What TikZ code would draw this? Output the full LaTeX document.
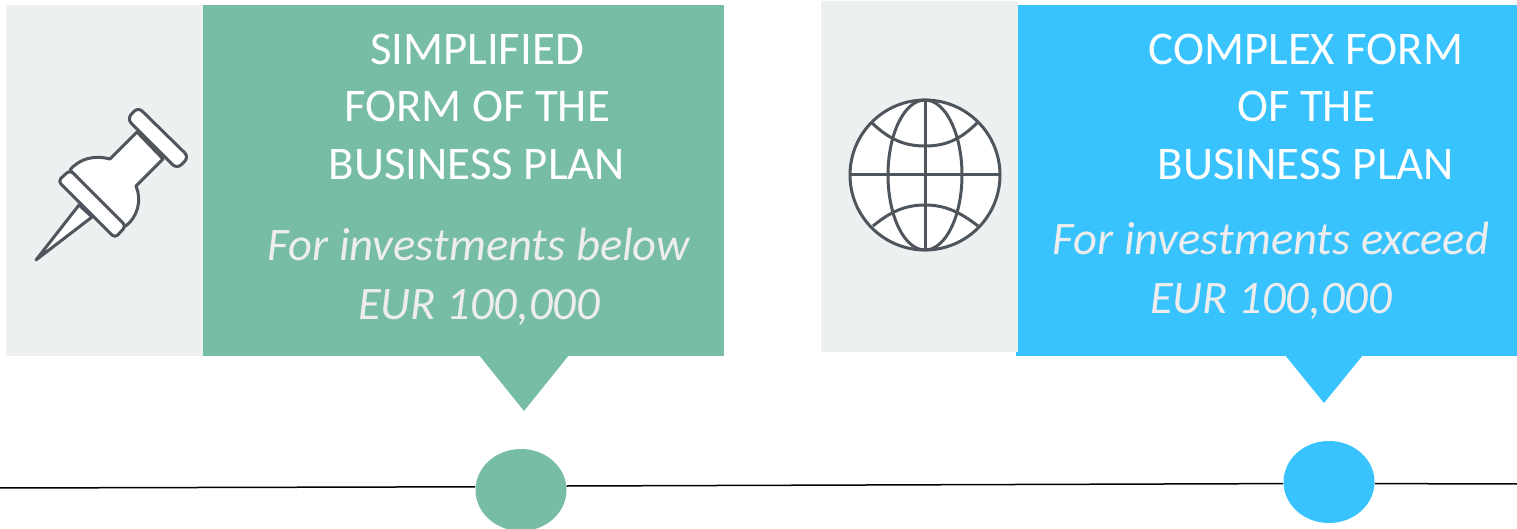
\documentclass[tikz,border=0pt]{standalone}
\usepackage{fontspec}
\setmainfont{Carlito}
\usetikzlibrary{shapes.geometric}
\definecolor{gr}{HTML}{76BCA7}
\definecolor{bl}{HTML}{38C3FF}
\definecolor{pale}{HTML}{ECF0F1}
\definecolor{ink}{HTML}{4F555C}
\tikzset{
 panel/.style={fill=#1,draw=none},
 icon/.style={draw=ink,line width=1.5pt,fill=white,line join=round},
 dot/.style={ellipse,fill=#1,draw=none,minimum width=45.5pt,minimum height=41pt,inner sep=0pt},
 head/.style={text=white,align=center,inner sep=0pt,font=\fontsize{23.4}{28.75}\selectfont},
 sub/.style={text=white!93!black,align=center,inner sep=0pt,font=\fontsize{23.3}{29.5}\selectfont\itshape},
 axis/.style={draw=black,line width=0.75pt}
}
\begin{document}
\begin{tikzpicture}[x=0.5pt,y=-0.5pt]
\useasboundingbox (0,0) rectangle (1517,529);
\clip (0,0) rectangle (1517,529);
% left card
\fill[panel=pale] (6,5) rectangle (203,356);
\fill[panel=gr] (203,5) rectangle (724,356);
\fill[panel=gr] (479,355) -- (569,355) -- (524,411) -- cycle;
% right card
\fill[panel=bl] (1016,5) rectangle (1517,356);
\fill[panel=pale] (821,1) rectangle (1018,352);
\fill[panel=bl] (1018,5) rectangle (1517,352);
\fill[panel=bl] (1285,355) -- (1363,355) -- (1324,403) -- cycle;
% timeline
\node[dot=gr] (c1) at (521,490) {};
\node[dot=bl] (c2) at (1329,482) {};
\coordinate (L) at (0,488);
\coordinate (R) at (1517,484);
\draw[axis] (L) -- (c1.176);
\draw[axis] (c1.5) -- (c2.182);
\draw[axis] (c2.358) -- (R);
% pin
\draw[icon] (36,260) -- (79,205) -- (92,217) -- cycle;
\draw[icon] (110,159) -- (137,132) -- (163,159) -- (136,186)
  .. controls (142,200) and (138,218) .. (124,227) -- (70,170)
  .. controls (80,158) and (95,155) .. cycle;
\draw[icon,rounded corners=3pt] (138,107) -- (189,157) -- (177,169) -- (127,119) -- cycle;
\draw[icon,rounded corners=2pt] (70,170) -- (126,226) -- (115,238) -- (58,181) -- cycle;
% globe
\draw[icon] (925,175) circle[x radius=75,y radius=75];
\draw[icon,fill=none] (925,175) circle[x radius=37,y radius=75];
\draw[icon,fill=none] (925,100) -- (925,250);
\draw[icon,fill=none] (850,175) -- (1000,175);
\draw[icon,fill=none] (872,123) .. controls (890,140) and (905,146) .. (925,146) .. controls (945,146) and (960,140) .. (977,123);
\draw[icon,fill=none] (873,226) .. controls (890,212) and (905,205) .. (925,205) .. controls (945,205) and (960,212) .. (978,226);
% text
\node[head] (t1) at (477,106.5) {SIMPLIFIED\\FORM OF THE\\BUSINESS PLAN};
\node[sub] (s1) at (479,277) {For investments below\\EUR 100,000};
\node[head] (t2) at (1306,106.5) {COMPLEX FORM\\OF THE\\BUSINESS PLAN};
\node[sub] (s2) at (1271,271) {For investments exceed\\EUR 100,000};
\end{tikzpicture}
\end{document}
